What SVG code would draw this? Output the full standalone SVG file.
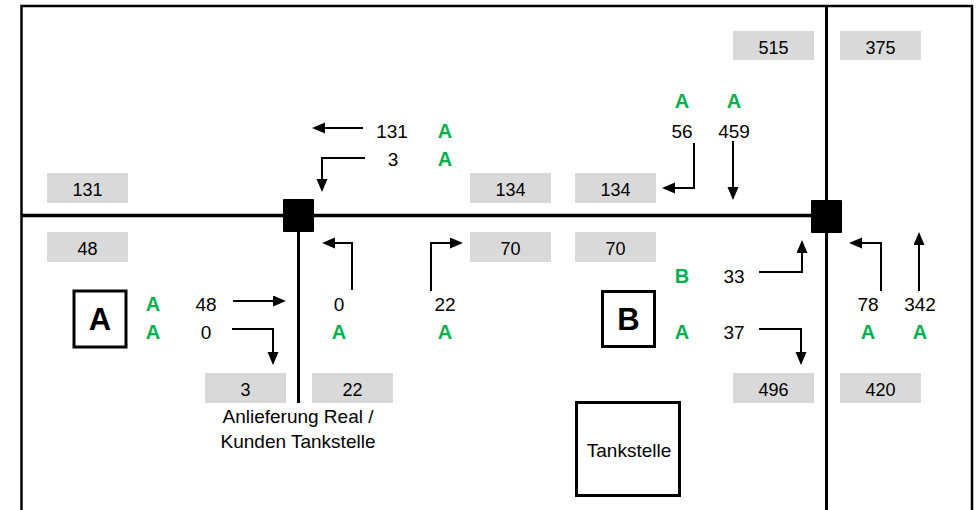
<svg xmlns="http://www.w3.org/2000/svg" width="978" height="510" viewBox="0 0 978 510">
  <style>
    text { font-family: "Liberation Sans", Arial, sans-serif; fill: #000; text-anchor: middle; }
    .num { font-size: 19px; }
    .lbl { font-size: 18px; }
    .cap { font-size: 19px; }
    .grn { font-size: 20px; font-weight: bold; fill: #00B050; }
    .big { font-size: 31px; font-weight: bold; }
    .cnt { fill: #D9D9D9; }
    .road { fill: none; stroke: #000; stroke-width: 3; }
    .frame { fill: none; stroke: #000; stroke-width: 2.5; }
    .zone { fill: #fff; stroke: #000; stroke-width: 3; }
    .flow { fill: none; stroke: #000; stroke-width: 2; marker-end: url(#head); }
  </style>
  <defs>
    <marker id="head" markerUnits="userSpaceOnUse" markerWidth="14" markerHeight="12" refX="9" refY="5.5" orient="auto">
      <path d="M0,0 L13,5.5 L0,11 Z" fill="#000"/>
    </marker>
  </defs>

  <rect width="978" height="510" fill="#fff"/>

  <!-- outer frame and roads -->
  <g id="roads">
    <path class="frame" d="M21.5,512 V6 H972 V512"/>
    <path class="road" d="M826.5,6 V512"/>
    <path class="road" d="M21.5,215.5 H826.5" style="stroke-width:3.5"/>
    <path class="road" d="M298.5,215 V403"/>
  </g>

  <!-- junctions -->
  <g id="junction-left"><rect x="283" y="199" width="31" height="33" rx="1" fill="#000"/></g>
  <g id="junction-right"><rect x="811" y="200" width="31" height="33" rx="1" fill="#000"/></g>

  <!-- counting boxes -->
  <g id="counts">
    <rect class="cnt" x="733" y="31" width="81" height="29"/><text class="lbl" x="773.5" y="54">515</text>
    <rect class="cnt" x="840" y="31" width="81" height="29"/><text class="lbl" x="880.5" y="54">375</text>
    <rect class="cnt" x="47" y="173" width="81" height="30"/><text class="lbl" x="87.5" y="196">131</text>
    <rect class="cnt" x="470" y="173" width="81" height="30"/><text class="lbl" x="510.5" y="196">134</text>
    <rect class="cnt" x="575" y="173" width="81" height="30"/><text class="lbl" x="615.5" y="196">134</text>
    <rect class="cnt" x="47" y="232" width="81" height="30"/><text class="lbl" x="87.5" y="255">48</text>
    <rect class="cnt" x="470" y="232" width="81" height="30"/><text class="lbl" x="510.5" y="255">70</text>
    <rect class="cnt" x="575" y="232" width="81" height="30"/><text class="lbl" x="615.5" y="255">70</text>
    <rect class="cnt" x="205" y="373" width="81" height="30"/><text class="lbl" x="245.5" y="396">3</text>
    <rect class="cnt" x="312" y="373" width="81" height="30"/><text class="lbl" x="352.5" y="396">22</text>
    <rect class="cnt" x="733" y="373" width="81" height="30"/><text class="lbl" x="773.5" y="396">496</text>
    <rect class="cnt" x="840" y="373" width="81" height="30"/><text class="lbl" x="880.5" y="396">420</text>
  </g>

  <!-- areas -->
  <g id="area-a">
    <rect class="zone" x="74" y="291" width="52" height="56"/>
    <text class="big" x="100" y="330">A</text>
  </g>
  <g id="area-b">
    <rect class="zone" x="602.5" y="291.5" width="52" height="55"/>
    <text class="big" x="628.5" y="330">B</text>
  </g>
  <g id="tankstelle">
    <rect class="zone" x="576.5" y="402.5" width="103" height="93"/>
    <text class="cap" x="629" y="457">Tankstelle</text>
  </g>
  <g id="access-label">
    <text class="cap" x="298" y="423">Anlieferung Real /</text>
    <text class="cap" x="298" y="448">Kunden Tankstelle</text>
  </g>

  <!-- turning movements -->
  <g id="connectors">
    <path class="flow" d="M363,128 H316"/>
    <path class="flow" d="M365,158 H322 V188"/>
    <path class="flow" d="M694,143 V188 H666"/>
    <path class="flow" d="M733,141 V196"/>
    <path class="flow" d="M233,301 H282"/>
    <path class="flow" d="M232,329 H273 V361"/>
    <path class="flow" d="M352,290 V243 H326"/>
    <path class="flow" d="M431,291 V243 H459"/>
    <path class="flow" d="M759,272 H802 V244"/>
    <path class="flow" d="M759,329 H801 V361"/>
    <path class="flow" d="M881,291 V243 H853"/>
    <path class="flow" d="M919,291 V236"/>
  </g>

  <!-- volumes and grades -->
  <g id="values">
    <text class="num" x="392" y="138">131</text><text class="grn" x="445" y="138">A</text>
    <text class="num" x="393" y="166">3</text><text class="grn" x="445" y="166">A</text>
    <text class="grn" x="682" y="108">A</text><text class="grn" x="734" y="108">A</text>
    <text class="num" x="682" y="138">56</text><text class="num" x="734" y="138">459</text>
    <text class="grn" x="153" y="311">A</text><text class="num" x="206" y="311">48</text>
    <text class="grn" x="153" y="339">A</text><text class="num" x="206" y="339">0</text>
    <text class="num" x="339" y="311">0</text><text class="grn" x="339" y="339">A</text>
    <text class="num" x="445" y="311">22</text><text class="grn" x="445" y="339">A</text>
    <text class="grn" x="682" y="283">B</text><text class="num" x="734" y="283">33</text>
    <text class="grn" x="682" y="339">A</text><text class="num" x="734" y="339">37</text>
    <text class="num" x="868" y="311">78</text><text class="num" x="920" y="311">342</text>
    <text class="grn" x="868" y="339">A</text><text class="grn" x="920" y="339">A</text>
  </g>
</svg>
